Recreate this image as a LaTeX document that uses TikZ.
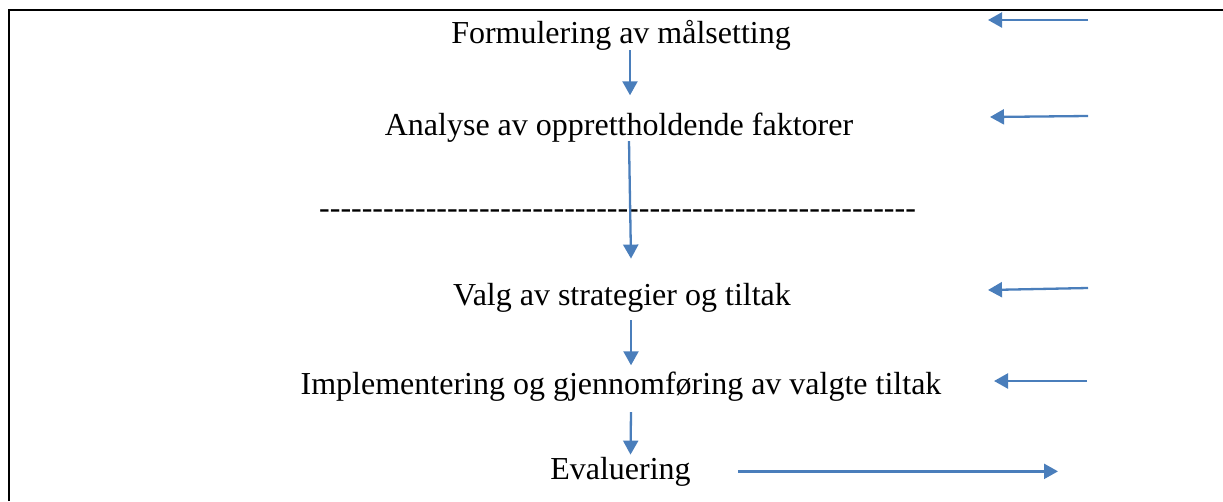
\documentclass[tikz,border=0pt]{standalone}
\usepackage{fontspec}
\setmainfont{Liberation Serif}
\usetikzlibrary{arrows.meta}
\definecolor{flowblue}{HTML}{4A7EBB}
% a run of plain hyphens, kept apart so they never merge into dashes
\newcommand\hyphenrun[1]{\foreach \k in {1,...,#1}{-\kern0pt}}
\tikzset{
  steptext/.style={inner sep=0pt, anchor=base, font=\fontsize{32}{38}\selectfont},
  flow/.style={draw=flowblue, line width=2.3pt, -{Triangle[length=14pt,width=15pt]}},
  frame/.style={draw=black, line width=2pt}
}
\begin{document}
\begin{tikzpicture}[x=1pt, y=-1pt]
  \useasboundingbox (0,0) rectangle (1223,501);
  % open frame: top and left edges
  \draw[frame] (9,501) -- (9,10) -- (1223,10);

  % steps of the process
  \node[steptext] (f) at (621,43)  {Formulering av målsetting};
  \node[steptext] (a) at (619,135) {Analyse av opprettholdende faktorer};
  \node[steptext] (v) at (622,305) {Valg av strategier og tiltak};
  \node[steptext] (i) at (621,394) {Implementering og gjennomføring av valgte tiltak};
  \node[steptext] (e) at (620.5,479) {Evaluering};

  % separator made of hyphens
  \node[inner sep=0pt, anchor=base west, font=\fontsize{32}{38}\selectfont] (sep) at (319,218.5) {\hyphenrun{56}};

  % downward flow between the steps
  \draw[flow] ([xshift=9pt]f.south) -- ([xshift=11pt,yshift=17pt]a.north);
  \draw[flow] ([xshift=10pt,yshift=1pt]a.south) -- ([xshift=9pt,yshift=24pt]v.north);
  \draw[flow] ([xshift=9pt,yshift=-8pt]v.south) -- ([xshift=10pt,yshift=6pt]i.north);
  \draw[flow] ([xshift=10pt,yshift=-11pt]i.south) -- ([xshift=10pt,yshift=2pt]e.north);

  % feedback arrows on the right
  \coordinate (r1s) at (1088,20);  \coordinate (r1e) at (988,20);
  \coordinate (r2s) at (1088,116); \coordinate (r2e) at (990,117);
  \coordinate (r3s) at (1088,288); \coordinate (r3e) at (988,290);
  \coordinate (r4s) at (1087,381); \coordinate (r4e) at (994,381);
  \draw[flow] (r1s) -- (r1e);
  \draw[flow] (r2s) -- (r2e);
  \draw[flow] (r3s) -- (r3e);
  \draw[flow] (r4s) -- (r4e);

  % outgoing arrow from the evaluation step
  \coordinate (eo) at (1058,472);
  \draw[flow] ([xshift=47pt]e.east) -- (e.east -| eo);
\end{tikzpicture}
\end{document}
